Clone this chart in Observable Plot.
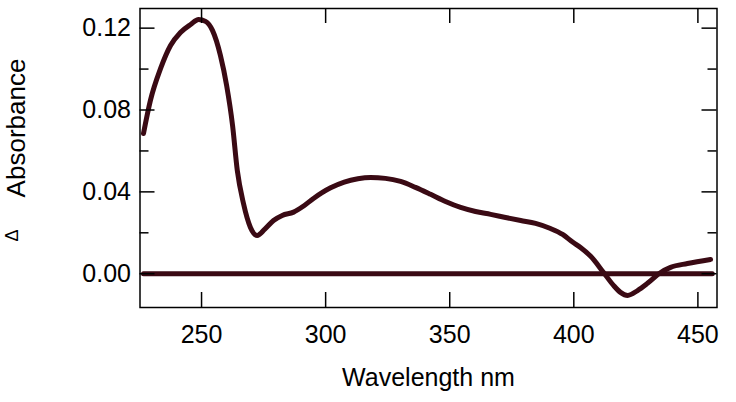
<!DOCTYPE html>
<html>
<head>
<meta charset="utf-8">
<script src="https://cdn.jsdelivr.net/npm/d3@7"></script>
<script src="https://cdn.jsdelivr.net/npm/@observablehq/plot@0.6"></script>
<style>
  html, body { margin: 0; padding: 0; background: #fff; }
</style>
</head>
<body>
<div id="chart"></div>
<script>
// Wavelength (nm) and ΔAbsorbance
const wavelength = [226.6, 229.4, 233.5, 237.5, 241.5, 245.6, 248.8, 251.6, 254.4, 257.6,
  260.1, 262.5, 264.4, 266.9, 269.7, 272.4, 275.5, 279.0, 282.5, 287.1,
  291.0, 295.1, 302.0, 307.5, 313.0, 318.1, 324.1, 330.2, 336.2,
  342.3, 348.3, 354.4, 360.4, 366.5, 372.5, 378.6, 384.6, 390.6, 395.5,
  399.5, 402.7, 406.8, 412.0, 416.0, 418.8, 421.7, 425.7, 429.7,
  435.0, 439.0, 445.8, 455.1];
const deltaAbs = [0.0685, 0.0847, 0.1003, 0.1115, 0.1179, 0.1218, 0.1242, 0.1233, 0.1189, 0.1067,
  0.0920, 0.0724, 0.0505, 0.0343, 0.0226, 0.0187, 0.0218, 0.0260, 0.0285, 0.0301,
  0.0330, 0.0368, 0.0420, 0.0448, 0.0464, 0.0470, 0.0466, 0.0451, 0.0422,
  0.0388, 0.0353, 0.0324, 0.0304, 0.0290, 0.0275, 0.0260, 0.0246, 0.0221, 0.0192,
  0.0155, 0.0128, 0.0085, 0.0006, -0.0057, -0.0091, -0.0106, -0.0082, -0.0047,
  0.0006, 0.0031, 0.0050, 0.0070];
// Baseline (zero) trace
const baselineX = [226.6, 455.8];
const baselineY = [0, 0];

const xTicks = [250, 300, 350, 400, 450];
const yTicks = [0, 0.04, 0.08, 0.12];
const yMinorTicks = [0.02, 0.06, 0.10];
const xLabel = "Wavelength nm";
const yLabel = "Absorbance";
const yLabelSymbol = "Δ";

const spectrum = wavelength.map((w, i) => ({w, a: deltaAbs[i]}));
const baseline = baselineX.map((w, i) => ({w, a: baselineY[i]}));

const W = 736, H = 402;
const mL = 139.5, mR = 19.5, mT = 8, mB = 95;
const fw = W - mL - mR, fh = H - mT - mB;
const major = 15, minor = 9;
const lineColor = "#3a0a14";
const font = "'Liberation Sans', Arial, Helvetica, sans-serif";

const chart = Plot.plot({
  width: W, height: H,
  marginLeft: mL, marginRight: mR, marginTop: mT, marginBottom: mB,
  style: {fontFamily: font, background: "#fff", color: "#000"},
  x: {domain: [225.2, 457.7]},
  y: {domain: [-0.0165, 0.1296]},
  marks: [
    Plot.axisX({ticks: xTicks, tickSize: 0, tickPadding: 18, fontSize: 25, label: null}),
    Plot.axisY({ticks: yTicks, tickSize: 0, tickPadding: 9, fontSize: 25, label: null, tickFormat: d3.format(".2f")}),
    Plot.line(baseline, {x: "w", y: "a", stroke: lineColor, strokeWidth: 5, strokeLinecap: "round"}),
    Plot.line(spectrum, {x: "w", y: "a", stroke: lineColor, strokeWidth: 5, strokeLinecap: "round", strokeLinejoin: "round", curve: "monotone-x"}),
    Plot.frame({stroke: "#000", strokeWidth: 1.5}),
    Plot.tickX(xTicks, {x: d => d, insetTop: fh - major, stroke: "#000", strokeWidth: 1.5}),
    Plot.tickX(xTicks, {x: d => d, insetBottom: fh - major, stroke: "#000", strokeWidth: 1.5}),
    Plot.tickY(yTicks, {y: d => d, insetRight: fw - major, stroke: "#000", strokeWidth: 1.5}),
    Plot.tickY(yTicks, {y: d => d, insetLeft: fw - major, stroke: "#000", strokeWidth: 1.5}),
    Plot.tickY(yMinorTicks, {y: d => d, insetRight: fw - minor, stroke: "#000", strokeWidth: 1.5}),
    Plot.tickY(yMinorTicks, {y: d => d, insetLeft: fw - minor, stroke: "#000", strokeWidth: 1.5}),
    Plot.text([xLabel], {text: d => d, frameAnchor: "bottom", dy: 70, fontSize: 25, lineAnchor: "middle", fill: "#000"}),
    Plot.text([yLabel], {text: d => d, frameAnchor: "left", dx: -123.5, dy: -30, rotate: -90, fontSize: 26, lineAnchor: "middle", textAnchor: "middle", fill: "#000"}),
    Plot.text([yLabelSymbol], {text: d => d, frameAnchor: "left", dx: -128, dy: 77.5, rotate: -90, fontSize: 18, lineAnchor: "middle", textAnchor: "middle", fill: "#000", fontWeight: 300})
  ]
});
document.getElementById("chart").append(chart);
</script>
</body>
</html>
